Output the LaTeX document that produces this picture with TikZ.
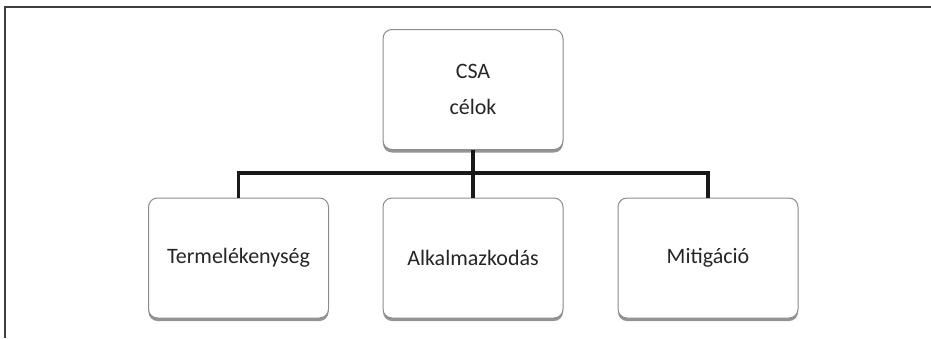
\documentclass[tikz,border=0pt]{standalone}
\usepackage{fontspec}
\setmainfont{Carlito}
\usetikzlibrary{shadows}
\begin{document}
\begin{tikzpicture}[x=1pt,y=1pt,
  goalbox/.style={draw=black!45, line width=1pt, rounded corners=9pt, fill=white,
    minimum width=180pt, minimum height=120pt, inner sep=0pt,
    drop shadow={shadow xshift=0pt, shadow yshift=-3pt, fill=black!60, opacity=0.7},
    font=\fontsize{22}{27}\selectfont, text=black!85},
  link/.style={line width=3.3pt, draw=black!90}]
\useasboundingbox (0,0) rectangle (931,-338);
\draw[line width=2pt, black!75] (5,-338) -- (5,-7) -- (931,-7);
\node[goalbox, align=center] (top) at (473,-89.5) {CSA\\[9pt]célok};
\node[goalbox] (b1) at (238.5,-258) {Termelékenység};
\node[goalbox] (b2) at (473,-258) {Alkalmazkodás};
\node[goalbox] (b3) at (708,-258) {Mitigáció};
\coordinate (bar) at (473,-173);
\draw[link] (top.south) -- (b2.north);
\draw[link] (b1.north) |- (bar) -| (b3.north);
\end{tikzpicture}
\end{document}
